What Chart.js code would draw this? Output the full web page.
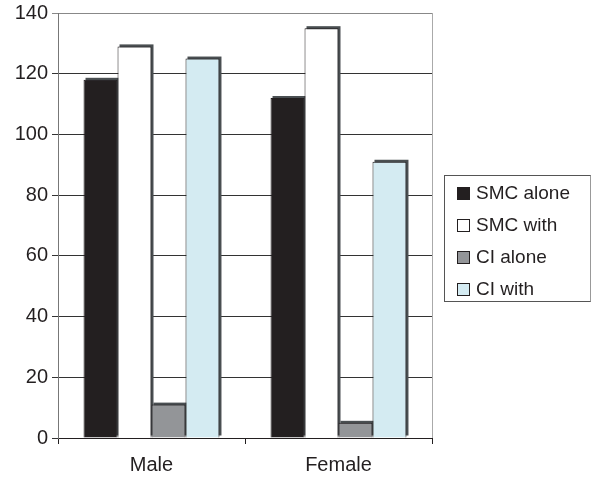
<!DOCTYPE html>
<html><head><meta charset="utf-8">
<script src="https://cdn.jsdelivr.net/npm/chart.js@4/dist/chart.umd.min.js"></script>
<style>
html,body{margin:0;padding:0;background:#fff;}
#wrap{position:relative;width:593px;height:477px;}
#legend{position:absolute;left:444px;top:175px;width:147px;height:127px;border:1px solid #555;border-right-color:#999;box-sizing:border-box;font-family:"Liberation Sans",Arial,sans-serif;font-size:19px;color:#231f20;}
.item{position:absolute;left:12px;height:22px;line-height:22px;white-space:nowrap;}
.sw{display:inline-block;width:13px;height:13px;border:1px solid #231f20;box-sizing:border-box;margin-right:6px;vertical-align:-1px;}
</style></head>
<body><div id="wrap"><canvas id="c" width="593" height="477"></canvas><div id="legend"></div></div>
<script>
const categories = ['Male', 'Female'];
const seriesNames = ['SMC alone', 'SMC with', 'CI alone', 'CI with'];
const smcAlone = [118, 112];
const smcWith = [129, 135];
const ciAlone = [11, 5];
const ciWith = [125, 91];
const seriesColors = ['#231f20', '#ffffff', '#939598', '#d4ebf2'];
const yMin = 0, yMax = 140, yStep = 20;

const seriesValues = [smcAlone, smcWith, ciAlone, ciWith];
const font = {family: '"Liberation Sans", Arial, sans-serif', size: 20};

const shadowPlugin = {
  id: 'shadow3d',
  beforeDatasetsDraw(chart) {
    const ctx = chart.ctx;
    ctx.save();
    chart.data.datasets.forEach((ds, i) => {
      chart.getDatasetMeta(i).data.forEach(el => {
        const p = el.getProps(['x','y','base','width'], true);
        const l = p.x - p.width/2;
        ctx.fillStyle = '#4a4f52';
        ctx.fillRect(l + 2, p.y - 2, p.width, p.base - p.y);
      });
    });
    ctx.restore();
  },
  afterDraw(chart) {
    const a = chart.chartArea, ctx = chart.ctx;
    ctx.save();
    ctx.strokeStyle = '#aaa'; ctx.lineWidth = 1;
    ctx.beginPath(); ctx.moveTo(a.right + 0.5, a.top); ctx.lineTo(a.right + 0.5, a.bottom); ctx.stroke();
    ctx.restore();
  }
};

new Chart(document.getElementById('c'), {
  type: 'bar',
  data: {
    labels: categories,
    datasets: seriesNames.map((n, i) => ({
      label: n, data: seriesValues[i], backgroundColor: seriesColors[i],
      borderColor: '#231f20', borderWidth: 1,
      barPercentage: 1.0, categoryPercentage: 0.727
    }))
  },
  options: {
    responsive: false, animation: false,
    layout: {padding: {top: 13, right: 161, left: 0, bottom: 0}},
    plugins: {legend: {display: false}, tooltip: {enabled: false}},
    scales: {
      x: {
        grid: {offset: true, drawOnChartArea: false, tickLength: 6, color: '#231f20'},
        border: {color: '#231f20', width: 1},
        ticks: {font, color: '#231f20', padding: 9},
        afterFit(s) { s.height = 39; s.paddingLeft = 0; s.paddingRight = 0; }
      },
      y: {
        min: yMin, max: yMax,
        grid: {color: ctx => ctx.tick && ctx.tick.value === yMax ? '#888' : '#333', tickLength: 6},
        border: {color: '#777', width: 1},
        ticks: {stepSize: yStep, font, color: '#231f20', padding: 4},
        afterFit(s) { s.width = 58; s.paddingTop = 0; s.paddingBottom = 0; }
      }
    }
  },
  plugins: [shadowPlugin]
});

const lg = document.getElementById('legend');
seriesNames.forEach((n, i) => {
  const d = document.createElement('div');
  d.className = 'item';
  d.style.top = (6 + i * 32) + 'px';
  d.innerHTML = '<span class="sw" style="background:' + seriesColors[i] + '"></span>' + n;
  lg.appendChild(d);
});
</script></body></html>
